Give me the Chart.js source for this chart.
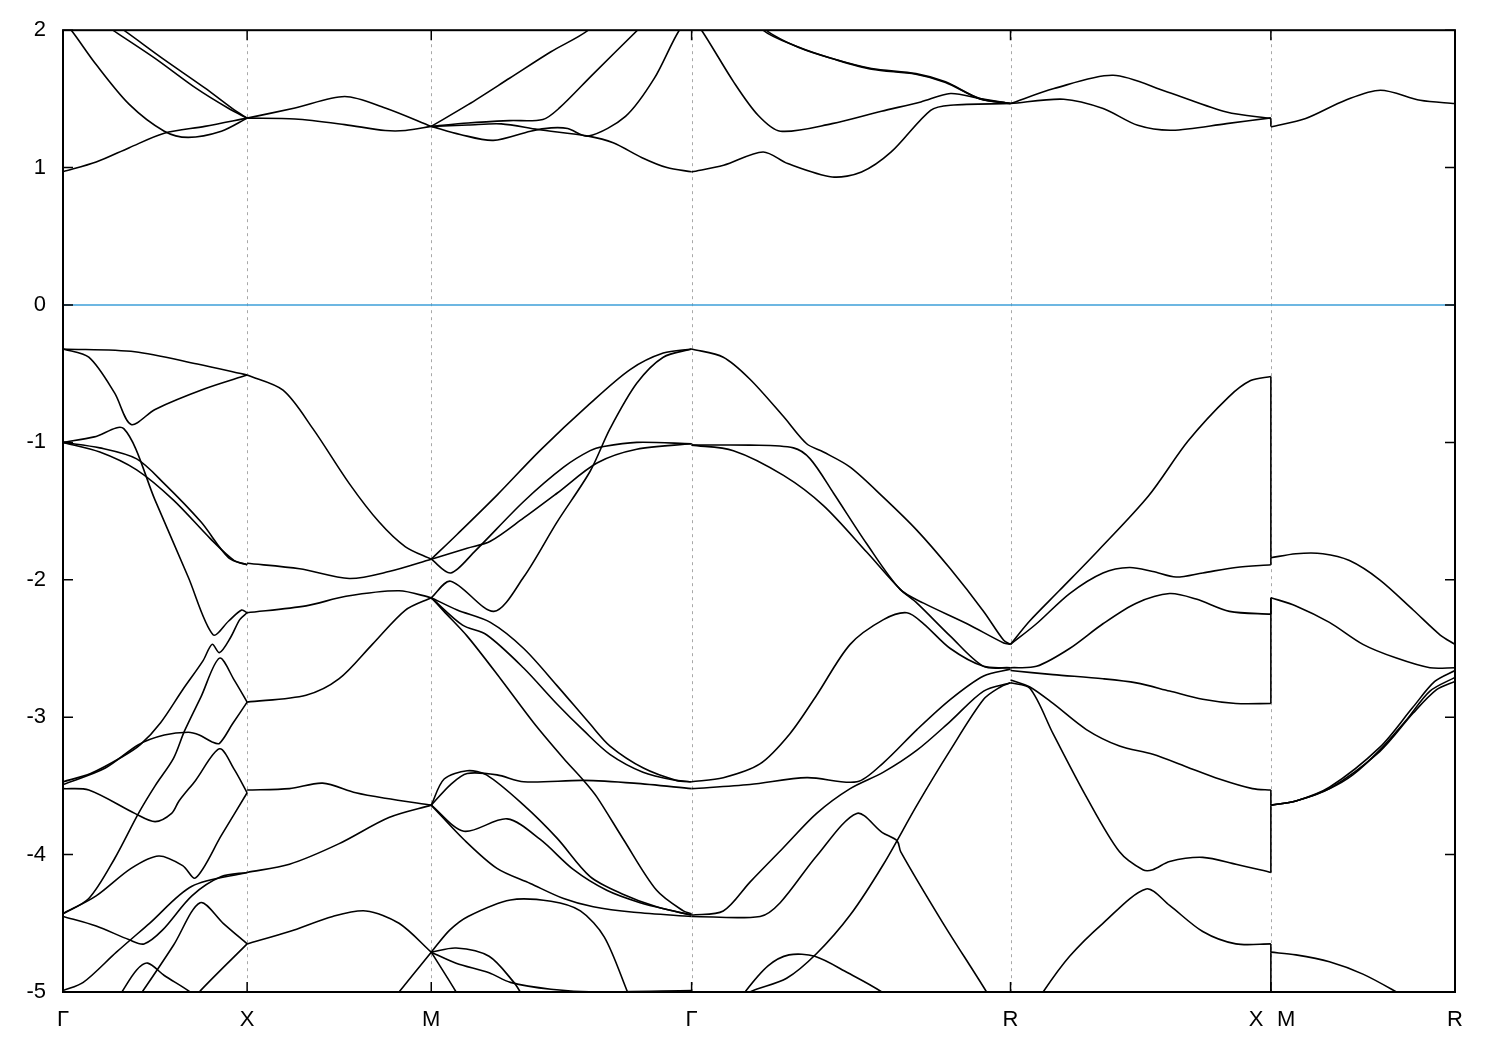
<!DOCTYPE html>
<html>
<head>
<meta charset="utf-8">
<script src="https://cdn.jsdelivr.net/npm/chart.js@4.4.1/dist/chart.umd.min.js"></script>
<style>
  body { margin: 0; background: #fff; }
</style>
</head>
<body>
<canvas id="bands" width="1500" height="1050"></canvas>
<script>
// k-path positions (in units of the Gamma-X length) and labels
const kPoints = [0, 1, 2, 3.414, 5.146, 6.56, 7.56];
const tickVals = [0, 1, 2, 3.414, 5.146, 6.48, 6.643, 7.56];
const tickLabels = ["Γ", "X", "M", "Γ", "R", "X", "M", "R"];
const energyTicks = [-5, -4, -3, -2, -1, 0, 1, 2];

// bands, one list of curves per path segment, each point is [k, E(eV)]
const gammaX = [
  [[0,0.97],[0.18,1.04],[0.36,1.145],[0.55,1.25],[0.77,1.30],[1,1.36]],
  [[0,2.06],[0.045,2.0],[0.18,1.75],[0.36,1.46],[0.55,1.265],[0.68,1.22],[0.86,1.265],[1,1.36]],
  [[0.2,2.06],[0.27,2.0],[0.5,1.795],[0.72,1.58],[0.9,1.43],[1,1.36]],
  [[0.26,2.06],[0.33,2.0],[0.54,1.795],[0.77,1.58],[0.93,1.42],[1,1.36]],
  [[0,-0.32],[0.39,-0.34],[0.73,-0.43],[1,-0.51]],
  [[0,-0.32],[0.14,-0.38],[0.28,-0.64],[0.37,-0.87],[0.5,-0.76],[0.77,-0.61],[1,-0.51]],
  [[0,-1.0],[0.17,-0.96],[0.33,-0.9],[0.5,-1.42],[0.68,-1.98],[0.815,-2.40],[0.9,-2.3],[0.97,-2.22],[1,-2.24]],
  [[0,-1.0],[0.2,-1.04],[0.4,-1.12],[0.55,-1.3],[0.75,-1.58],[0.9,-1.84],[1,-1.89]],
  [[0,-1.0],[0.2,-1.07],[0.4,-1.2],[0.6,-1.42],[0.8,-1.7],[0.93,-1.86],[1,-1.89]],
  [[0,-3.47],[0.15,-3.41],[0.32,-3.29],[0.42,-3.2],[0.53,-3.04],[0.65,-2.8],[0.76,-2.59],[0.81,-2.47],[0.85,-2.53],[0.91,-2.42],[0.96,-2.29],[1,-2.24]],
  [[0,-3.49],[0.23,-3.37],[0.41,-3.2],[0.55,-3.13],[0.68,-3.11],[0.74,-3.13],[0.81,-3.18],[0.85,-3.19],[0.92,-3.05],[1,-2.89]],
  [[0,-4.43],[0.14,-4.32],[0.28,-4.03],[0.41,-3.7],[0.5,-3.5],[0.6,-3.3],[0.66,-3.1],[0.75,-2.85],[0.85,-2.57],[0.93,-2.73],[1,-2.89]],
  [[0,-3.52],[0.14,-3.53],[0.39,-3.70],[0.5,-3.76],[0.59,-3.70],[0.63,-3.61],[0.72,-3.46],[0.85,-3.23],[0.93,-3.38],[1,-3.55]],
  [[0,-4.43],[0.18,-4.3],[0.37,-4.1],[0.52,-4.01],[0.65,-4.08],[0.72,-4.17],[0.86,-3.86],[1,-3.55]],
  [[0,-4.45],[0.18,-4.52],[0.36,-4.62],[0.44,-4.65],[0.54,-4.55],[0.7,-4.3],[0.86,-4.16],[1,-4.13]],
  [[0,-4.99],[0.11,-4.93],[0.29,-4.71],[0.47,-4.5],[0.7,-4.23],[1,-4.13]],
  [[0.4,-5.05],[0.43,-5.0],[0.6,-4.66],[0.745,-4.35],[0.87,-4.5],[1,-4.65]],
  [[0.3,-5.05],[0.32,-5.0],[0.4,-4.84],[0.46,-4.79],[0.55,-4.88],[0.69,-5.0],[0.71,-5.04]],
  [[0.72,-5.05],[0.74,-5.0],[1,-4.65]]
];

const xM = [
  [[1,1.36],[1.26,1.434],[1.53,1.518],[1.75,1.434],[2,1.30]],
  [[1,1.36],[1.26,1.354],[1.53,1.313],[1.75,1.27],[1.86,1.27],[2,1.30]],
  [[1,-0.51],[1.195,-0.62],[1.357,-0.9],[1.555,-1.3],[1.717,-1.58],[1.86,-1.76],[2,-1.85]],
  [[1,-1.88],[1.285,-1.92],[1.555,-1.99],[1.77,-1.94],[2,-1.85]],
  [[1,-2.24],[1.32,-2.19],[1.537,-2.12],[1.825,-2.08],[2,-2.13]],
  [[1,-2.89],[1.32,-2.84],[1.5,-2.72],[1.68,-2.47],[1.86,-2.22],[2,-2.13]],
  [[1,-3.53],[1.23,-3.52],[1.41,-3.48],[1.59,-3.55],[1.75,-3.59],[2,-3.64]],
  [[1,-4.13],[1.23,-4.07],[1.5,-3.92],[1.77,-3.73],[2,-3.64]],
  [[1,-4.65],[1.23,-4.56],[1.465,-4.45],[1.645,-4.41],[1.825,-4.5],[2,-4.71]],
  [[1.8,-5.05],[1.825,-5.0],[2,-4.71]]
];

const mGamma = [
  [[2,1.30],[2.2,1.458],[2.425,1.65],[2.65,1.843],[2.853,2.0],[2.95,2.15]],
  [[2,1.30],[2.2,1.325],[2.425,1.342],[2.606,1.35],[2.696,1.434],[2.875,1.675],[3.12,2.0],[3.2,2.1]],
  [[2,1.30],[2.157,1.241],[2.337,1.198],[2.539,1.265],[2.651,1.289],[2.741,1.284],[2.853,1.229],[3.055,1.373],[3.212,1.651],[3.347,2.0],[3.414,2.08]],
  [[2,1.30],[2.2,1.31],[2.38,1.318],[2.58,1.277],[2.853,1.229],[2.988,1.181],[3.145,1.072],[3.28,1.0],[3.414,0.97]],
  [[2,-1.85],[2.14,-1.67],[2.36,-1.38],[2.59,-1.06],[2.86,-0.72],[3.08,-0.47],[3.26,-0.35],[3.414,-0.32]],
  [[2,-1.85],[2.105,-1.95],[2.231,-1.80],[2.502,-1.43],[2.719,-1.18],[2.863,-1.06],[2.936,-1.03],[3.116,-1.0],[3.414,-1.01]],
  [[2,-1.85],[2.195,-1.77],[2.321,-1.72],[2.502,-1.55],[2.683,-1.37],[2.9,-1.15],[3.116,-1.05],[3.414,-1.01]],
  [[2,-2.13],[2.105,-2.01],[2.34,-2.23],[2.502,-1.98],[2.683,-1.58],[2.863,-1.21],[2.971,-0.9],[3.116,-0.57],[3.26,-0.38],[3.414,-0.32]],
  [[2,-2.13],[2.069,-2.23],[2.195,-2.41],[2.376,-2.72],[2.556,-3.04],[2.719,-3.30],[2.827,-3.46],[2.899,-3.58],[3.044,-3.89],[3.224,-4.26],[3.369,-4.41],[3.414,-4.43]],
  [[2,-2.13],[2.141,-2.22],[2.321,-2.31],[2.502,-2.50],[2.683,-2.77],[2.863,-3.05],[2.971,-3.21],[3.152,-3.37],[3.333,-3.46],[3.414,-3.47]],
  [[2,-2.13],[2.17,-2.33],[2.3,-2.4],[2.5,-2.64],[2.68,-2.9],[2.83,-3.1],[2.97,-3.27],[3.15,-3.4],[3.33,-3.46],[3.414,-3.47]],
  [[2,-3.64],[2.105,-3.49],[2.195,-3.41],[2.357,-3.42],[2.502,-3.47],[2.827,-3.46],[3.1,-3.48],[3.414,-3.52]],
  [[2,-3.64],[2.07,-3.45],[2.195,-3.39],[2.3,-3.42],[2.502,-3.64],[2.683,-3.88],[2.863,-4.16],[3.044,-4.29],[3.224,-4.38],[3.414,-4.44]],
  [[2,-3.64],[2.177,-3.83],[2.412,-3.74],[2.592,-3.89],[2.773,-4.11],[2.953,-4.26],[3.134,-4.35],[3.315,-4.41],[3.414,-4.44]],
  [[2,-3.64],[2.177,-3.89],[2.357,-4.10],[2.538,-4.21],[2.719,-4.32],[2.88,-4.38],[3.1,-4.42],[3.414,-4.45]],
  [[2,-4.71],[2.1,-4.55],[2.2,-4.45],[2.43,-4.33],[2.65,-4.34],[2.81,-4.41],[2.94,-4.6],[3.066,-5.0],[3.08,-5.05]],
  [[2,-4.71],[2.135,-4.68],[2.314,-4.74],[2.449,-4.93],[2.483,-5.0],[2.5,-5.05]],
  [[2,-4.71],[2.135,-4.79],[2.314,-4.86],[2.43,-4.93],[2.65,-4.98],[2.9,-5.0],[3.414,-4.99]],
  [[2,-4.71],[2.135,-5.0],[2.15,-5.05]]
];

const gammaR = [
  [[3.414,2.08],[3.468,2.0],[3.642,1.624],[3.775,1.381],[3.896,1.265],[4.177,1.32],[4.445,1.41],[4.659,1.478],[4.82,1.539],[4.98,1.502],[5.146,1.466]],
  [[3.414,0.968],[3.588,1.017],[3.802,1.114],[3.936,1.029],[4.177,0.932],[4.337,0.968],[4.498,1.114],[4.712,1.417],[4.82,1.454],[5.146,1.466]],
  [[3.7,2.2],[3.802,2.0],[3.99,1.879],[4.177,1.794],[4.391,1.721],[4.632,1.684],[4.793,1.624],[4.98,1.502],[5.146,1.466]],
  [[3.72,2.2],[3.82,2.0],[4.0,1.872],[4.19,1.788],[4.391,1.716],[4.632,1.68],[4.793,1.62],[4.98,1.5],[5.146,1.466]],
  [[3.414,-0.32],[3.586,-0.38],[3.731,-0.54],[3.912,-0.81],[4.039,-1.01],[4.13,-1.07],[4.275,-1.18],[4.456,-1.40],[4.638,-1.64],[4.819,-1.92],[5.0,-2.23],[5.109,-2.44],[5.146,-2.47]],
  [[3.414,-1.02],[3.731,-1.02],[3.967,-1.04],[4.058,-1.12],[4.185,-1.37],[4.366,-1.74],[4.547,-2.07],[4.674,-2.17],[4.91,-2.32],[5.109,-2.46],[5.146,-2.47]],
  [[3.414,-1.02],[3.641,-1.06],[3.913,-1.24],[4.13,-1.46],[4.366,-1.80],[4.547,-2.07],[4.638,-2.17],[4.819,-2.41],[5.0,-2.63],[5.146,-2.64]],
  [[3.414,-3.47],[3.586,-3.44],[3.785,-3.34],[3.948,-3.12],[4.093,-2.84],[4.275,-2.47],[4.456,-2.29],[4.583,-2.24],[4.674,-2.32],[4.819,-2.50],[5.0,-2.63],[5.146,-2.64]],
  [[3.414,-3.52],[3.731,-3.49],[4.04,-3.44],[4.312,-3.47],[4.457,-3.33],[4.638,-3.09],[4.82,-2.87],[5.0,-2.70],[5.146,-2.65]],
  [[3.414,-4.44],[3.586,-4.41],[3.731,-4.20],[3.912,-3.95],[4.093,-3.70],[4.275,-3.52],[4.456,-3.40],[4.638,-3.24],[4.819,-3.03],[5.0,-2.81],[5.146,-2.75]],
  [[3.414,-4.45],[3.786,-4.45],[3.895,-4.35],[4.093,-4.01],[4.311,-3.70],[4.45,-3.84],[4.53,-3.90],[4.55,-3.98],[4.78,-4.5],[5.016,-5.0],[5.03,-5.05]],
  [[3.70,-5.05],[3.731,-5.0],[3.93,-4.9],[4.093,-4.72],[4.275,-4.44],[4.456,-4.07],[4.638,-3.64],[4.819,-3.24],[5.0,-2.87],[5.091,-2.78],[5.146,-2.75]],
  [[3.69,-5.05],[3.704,-5.0],[3.829,-4.81],[3.943,-4.73],[4.083,-4.74],[4.262,-4.86],[4.447,-5.0],[4.47,-5.05]]
];

const rX = [
  [[5.146,1.466],[5.382,1.575],[5.703,1.672],[5.998,1.551],[6.319,1.405],[6.56,1.357]],
  [[5.146,1.466],[5.435,1.498],[5.649,1.43],[5.837,1.308],[6.024,1.272],[6.319,1.32],[6.56,1.362]],
  [[5.146,-2.47],[5.25,-2.3],[5.41,-2.08],[5.62,-1.79],[5.895,-1.39],[6.11,-0.99],[6.33,-0.67],[6.45,-0.55],[6.56,-0.52]],
  [[5.146,-2.47],[5.287,-2.32],[5.467,-2.10],[5.648,-1.95],[5.792,-1.91],[5.919,-1.94],[6.045,-1.98],[6.19,-1.95],[6.37,-1.91],[6.56,-1.89]],
  [[5.146,-2.64],[5.287,-2.63],[5.467,-2.50],[5.648,-2.32],[5.829,-2.17],[6.01,-2.10],[6.154,-2.14],[6.335,-2.23],[6.56,-2.25]],
  [[5.146,-2.66],[5.377,-2.69],[5.648,-2.72],[5.829,-2.75],[6.01,-2.81],[6.19,-2.87],[6.37,-2.90],[6.56,-2.90]],
  [[5.146,-2.73],[5.251,-2.78],[5.377,-2.90],[5.558,-3.09],[5.738,-3.21],[5.919,-3.27],[6.1,-3.36],[6.28,-3.45],[6.46,-3.52],[6.56,-3.53]],
  [[5.146,-2.75],[5.251,-2.79],[5.377,-3.12],[5.558,-3.58],[5.738,-3.98],[5.865,-4.11],[5.919,-4.11],[6.01,-4.05],[6.19,-4.02],[6.37,-4.07],[6.56,-4.13]],
  [[5.31,-5.05],[5.323,-5.0],[5.467,-4.74],[5.648,-4.50],[5.883,-4.25],[6.01,-4.37],[6.19,-4.56],[6.37,-4.65],[6.56,-4.65]]
];

const mR = [
  [[6.56,1.296],[6.749,1.357],[6.965,1.49],[7.155,1.563],[7.371,1.49],[7.56,1.466]],
  [[6.56,-1.84],[6.696,-1.81],[6.842,-1.81],[6.987,-1.86],[7.151,-2.0],[7.333,-2.22],[7.478,-2.40],[7.56,-2.47]],
  [[6.56,-2.13],[6.696,-2.19],[6.878,-2.31],[7.06,-2.47],[7.242,-2.57],[7.424,-2.64],[7.56,-2.64]],
  [[6.56,-3.64],[6.696,-3.61],[6.878,-3.52],[7.005,-3.42],[7.151,-3.24],[7.296,-3.02],[7.424,-2.81],[7.56,-2.71]],
  [[6.56,-3.64],[6.696,-3.61],[6.878,-3.52],[7.151,-3.25],[7.333,-2.97],[7.46,-2.8],[7.56,-2.74]],
  [[6.56,-3.64],[6.696,-3.61],[6.878,-3.51],[7.151,-3.22],[7.33,-2.93],[7.45,-2.74],[7.56,-2.66]],
  [[6.56,-4.71],[6.696,-4.73],[6.878,-4.78],[7.06,-4.87],[7.242,-5.0],[7.3,-5.05]]
];

// vertical steps where the path jumps from X to M
const jumpFrom = [1.36, -0.52, -1.89, -2.25, -2.90, -3.53, -4.13, -4.65, -5.05];
const jumpTo   = [1.30, -1.84, -1.84, -2.13, -2.13, -3.64, -3.64, -4.71, -4.71];
const jumpK = 6.56;

function curveSet(curves) {
  return curves.map(c => ({
    data: c.map(p => ({ x: p[0], y: p[1] })),
    borderColor: "#000",
    borderWidth: 1.6,
    tension: 0.3,
    pointRadius: 0,
    showLine: true
  }));
}

const datasets = [
  {
    data: [{ x: 0, y: 0 }, { x: 7.56, y: 0 }],
    borderColor: "#3d9fd8",
    borderWidth: 1.5,
    pointRadius: 0,
    showLine: true
  }
];
[gammaX, xM, mGamma, gammaR, rX, mR].forEach(seg => datasets.push(...curveSet(seg)));
jumpFrom.forEach((e, i) => {
  datasets.push({
    data: [{ x: jumpK, y: e }, { x: jumpK, y: jumpTo[i] }],
    borderColor: "#000",
    borderWidth: 1.6,
    pointRadius: 0,
    showLine: true
  });
});

// dashed k-point lines, frame and inward ticks like gnuplot
const framePlugin = {
  id: "frame",
  beforeDatasetsDraw(chart) {
    const { ctx, chartArea: a, scales } = chart;
    ctx.save();
    ctx.strokeStyle = "#a8a8a8";
    ctx.lineWidth = 1;
    ctx.setLineDash([3, 4]);
    kPoints.slice(1, -1).forEach(v => {
      const px = Math.round(scales.x.getPixelForValue(v)) + 0.5;
      ctx.beginPath();
      ctx.moveTo(px, a.top);
      ctx.lineTo(px, a.bottom);
      ctx.stroke();
    });
    ctx.restore();
  },
  afterDatasetsDraw(chart) {
    const { ctx, chartArea: a, scales } = chart;
    ctx.save();
    ctx.strokeStyle = "#000";
    ctx.lineWidth = 2;
    ctx.strokeRect(a.left, a.top, a.right - a.left, a.bottom - a.top);
    ctx.lineWidth = 1.5;
    ctx.beginPath();
    energyTicks.forEach(v => {
      const py = scales.y.getPixelForValue(v);
      ctx.moveTo(a.left, py); ctx.lineTo(a.left + 10, py);
      ctx.moveTo(a.right, py); ctx.lineTo(a.right - 10, py);
    });
    kPoints.slice(1, -1).forEach(v => {
      const px = scales.x.getPixelForValue(v);
      ctx.moveTo(px, a.bottom); ctx.lineTo(px, a.bottom - 10);
      ctx.moveTo(px, a.top); ctx.lineTo(px, a.top + 10);
    });
    ctx.stroke();
    ctx.restore();
  }
};

const labelFont = { family: "'Liberation Sans', Arial, sans-serif", size: 22 };

new Chart(document.getElementById("bands"), {
  type: "scatter",
  data: { datasets: datasets },
  options: {
    responsive: false,
    animation: false,
    events: [],
    layout: { padding: { top: 28, right: 45, left: 0, bottom: 0 } },
    plugins: { legend: { display: false }, tooltip: { enabled: false } },
    scales: {
      x: {
        type: "linear",
        min: 0,
        max: 7.56,
        grid: { display: false, drawTicks: false },
        border: { display: false },
        afterBuildTicks: s => { s.ticks = tickVals.map(v => ({ value: v })); },
        afterFit: s => { s.height = 58; },
        ticks: {
          autoSkip: false,
          maxRotation: 0,
          minRotation: 0,
          padding: 15,
          color: "#000",
          font: labelFont,
          callback: (v, i) => tickLabels[i]
        }
      },
      y: {
        min: -5,
        max: 2,
        grid: { display: false, drawTicks: false },
        border: { display: false },
        afterBuildTicks: s => { s.ticks = energyTicks.map(v => ({ value: v })); },
        afterFit: s => { s.width = 63; },
        ticks: {
          padding: 17,
          color: "#000",
          font: labelFont,
          callback: v => String(v)
        }
      }
    }
  },
  plugins: [framePlugin]
});
</script>
</body>
</html>
